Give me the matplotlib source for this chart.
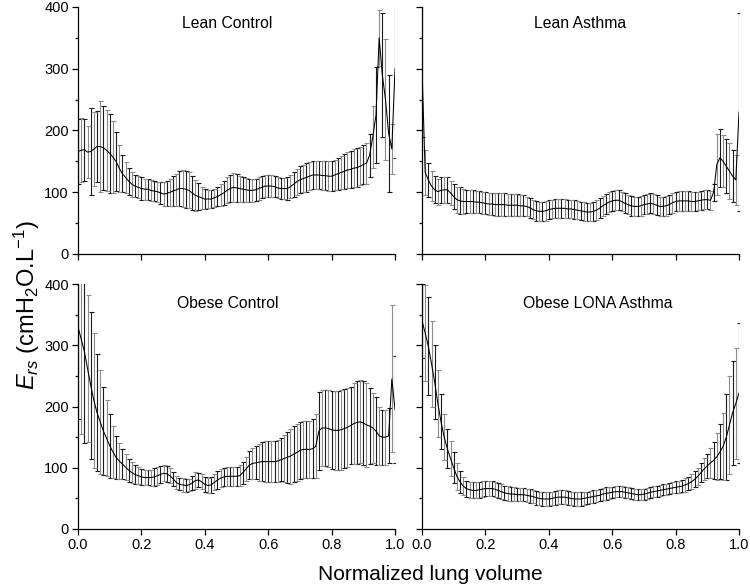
import numpy as np
import matplotlib
matplotlib.use("Agg")
import matplotlib.pyplot as plt
from matplotlib.ticker import MultipleLocator, FixedLocator

plt.rcParams['font.family'] = ['Liberation Sans', 'DejaVu Sans']
plt.rcParams['mathtext.fontset'] = 'custom'
plt.rcParams['mathtext.rm'] = 'Liberation Sans'
plt.rcParams['mathtext.it'] = 'Liberation Sans:italic'

# normalized lung volume sampling grid (0.00 .. 1.00)
volume = np.linspace(0.0, 1.0, 101)

titles = ["Lean Control", "Lean Asthma", "Obese Control", "Obese LONA Asthma"]
x_ticks = [0.0, 0.2, 0.4, 0.6, 0.8, 1.0]
x_tick_labels = ["0.0", "0.2", "0.4", "0.6", "0.8", "1.0"]
y_ticks = [0, 100, 200, 300, 400]

lean_control_mean = [
    166, 168, 169, 165, 166, 170, 174, 174, 172, 168,
    163, 157, 150, 139, 130, 124, 118, 113, 110, 108,
    106, 105, 105, 103, 102, 101, 99, 97, 98, 100,
    102, 104, 106, 106, 105, 103, 99, 95, 93, 91,
    89, 89, 89, 91, 93, 96, 99, 103, 106, 108,
    107, 106, 105, 104, 103, 103, 104, 106, 108, 110,
    110, 110, 109, 107, 106, 106, 106, 109, 113, 117,
    120, 122, 124, 126, 128, 128, 128, 127, 127, 126,
    126, 128, 130, 132, 134, 136, 137, 139, 140, 142,
    145, 147, 160, 190, 225, 350, 290, 250, 195, 170,
    300]
lean_control_sd = [
    53, 52, 50, 42, 70, 60, 57, 73, 68, 66,
    64, 58, 48, 38, 30, 25, 22, 20, 18, 18,
    18, 17, 17, 17, 16, 16, 18, 19, 20, 22,
    24, 26, 28, 30, 30, 29, 28, 25, 22, 18,
    16, 15, 15, 15, 16, 18, 20, 21, 22, 23,
    22, 21, 20, 19, 18, 18, 18, 18, 18, 18,
    18, 18, 17, 17, 17, 17, 18, 19, 20, 21,
    22, 22, 23, 23, 22, 22, 23, 23, 24, 24,
    24, 25, 26, 27, 28, 29, 30, 31, 31, 31,
    31, 33, 35, 50, 78, 45, 100, 98, 95, 40,
    145]

lean_asthma_mean = [
    300, 132, 120, 110, 104, 101, 103, 104, 104, 99,
    93, 88, 86, 85, 85, 85, 85, 84, 84, 83,
    82, 81, 81, 80, 80, 80, 80, 79, 79, 79,
    79, 78, 78, 77, 75, 72, 70, 69, 69, 70,
    72, 73, 74, 74, 74, 74, 73, 73, 72, 71,
    70, 69, 68, 68, 69, 71, 74, 78, 81, 84,
    86, 87, 87, 85, 82, 80, 78, 77, 77, 78,
    80, 81, 82, 81, 79, 77, 77, 78, 80, 83,
    85, 86, 86, 86, 86, 85, 85, 86, 87, 88,
    88, 87, 100, 145, 156, 150, 142, 134, 126, 120,
    230]
lean_asthma_sd = [
    110, 36, 27, 24, 22, 21, 21, 21, 21, 20,
    20, 21, 22, 20, 19, 19, 18, 18, 18, 18,
    18, 18, 18, 18, 18, 18, 18, 18, 18, 18,
    18, 17, 17, 16, 16, 16, 16, 16, 16, 16,
    15, 15, 15, 15, 15, 15, 15, 15, 15, 15,
    15, 15, 15, 15, 16, 16, 16, 16, 16, 16,
    16, 16, 16, 16, 16, 16, 16, 16, 16, 16,
    16, 16, 16, 16, 16, 16, 16, 16, 16, 16,
    16, 16, 16, 16, 16, 15, 15, 15, 15, 15,
    15, 15, 14, 50, 47, 42, 44, 45, 42, 41,
    160]

obese_control_mean = [
    330, 310, 290, 262, 235, 210, 190, 175, 160, 148,
    136, 126, 117, 111, 106, 101, 96, 92, 89, 87,
    85, 84, 84, 84, 85, 87, 89, 91, 90, 87,
    82, 76, 73, 72, 71, 72, 75, 79, 80, 77,
    73, 71, 72, 76, 80, 83, 85, 86, 86, 86,
    86, 87, 92, 98, 104, 107, 108, 109, 110, 110,
    110, 110, 110, 111, 113, 115, 117, 119, 122, 125,
    128, 130, 130, 130, 131, 135, 160, 165, 165, 164,
    162, 161, 161, 162, 164, 166, 169, 172, 174, 175,
    173, 170, 168, 165, 160, 152, 150, 150, 152, 245,
    195]
obese_control_sd = [
    150, 155, 150, 120, 120, 110, 95, 85, 72, 62,
    52, 42, 35, 30, 25, 21, 19, 17, 16, 14,
    13, 12, 12, 13, 15, 15, 14, 13, 13, 12,
    11, 10, 10, 11, 10, 10, 12, 14, 12, 12,
    12, 13, 13, 13, 14, 15, 15, 16, 16, 16,
    16, 17, 18, 20, 23, 25, 27, 30, 32, 33,
    34, 34, 34, 34, 35, 38, 42, 45, 46, 47,
    47, 47, 47, 47, 48, 52, 63, 62, 62, 63,
    64, 65, 65, 65, 65, 64, 63, 66, 68, 68,
    69, 68, 62, 57, 55, 48, 45, 45, 45, 120,
    88]

obese_lona_mean = [
    340, 320, 298, 270, 240, 205, 175, 150, 131, 115,
    100, 86, 77, 70, 66, 64, 63, 63, 64, 65,
    66, 66, 66, 65, 63, 61, 59, 58, 57, 57,
    56, 56, 56, 55, 54, 53, 51, 50, 49, 49,
    49, 50, 51, 52, 52, 52, 51, 50, 49, 49,
    49, 50, 51, 52, 53, 54, 55, 57, 58, 59,
    60, 61, 61, 61, 60, 59, 58, 57, 56, 56,
    57, 58, 60, 61, 62, 63, 64, 65, 66, 67,
    68, 69, 70, 72, 74, 77, 81, 86, 92, 98,
    103, 108, 112, 118, 126, 135, 150, 170, 190, 205,
    222]
obese_lona_sd = [
    60, 78, 80, 70, 60, 55, 45, 38, 32, 28,
    25, 22, 18, 15, 13, 13, 13, 13, 13, 13,
    12, 12, 12, 12, 12, 12, 12, 12, 12, 12,
    11, 11, 11, 11, 11, 11, 11, 11, 11, 11,
    11, 11, 11, 11, 11, 11, 11, 11, 11, 11,
    11, 10, 10, 10, 10, 10, 10, 10, 10, 10,
    9, 9, 9, 9, 9, 9, 9, 9, 9, 9,
    9, 9, 9, 9, 9, 9, 9, 9, 9, 9,
    10, 10, 10, 11, 11, 12, 13, 14, 16, 18,
    20, 24, 30, 38, 45, 55, 70, 80, 85, 90,
    115]

means = [lean_control_mean, lean_asthma_mean, obese_control_mean, obese_lona_mean]
sds = [lean_control_sd, lean_asthma_sd, obese_control_sd, obese_lona_sd]

fig = plt.figure(figsize=(7.5, 5.88), dpi=100)
W = 750.0
H = 588.0
# (left_px, top_px, right_px, bottom_px)
boxes = [(78, 7, 395, 254), (422, 7, 739, 254),
         (78, 284, 395, 529), (422, 284, 739, 529)]
title_pos = [(0.47, 0.935), (0.50, 0.935), (0.473, 0.922), (0.555, 0.922)]

for i in range(4):
    l, t, r, b = boxes[i]
    ax = fig.add_axes([l / W, 1 - b / H, (r - l) / W, (b - t) / H])
    m = np.array(means[i], dtype=float)
    s = np.array(sds[i], dtype=float)
    even = np.arange(0, 101, 2)
    odd = np.arange(1, 101, 2)
    ax.errorbar(volume[even], m[even], yerr=s[even], fmt='none', ecolor='#1a1a1a',
                elinewidth=0.8, capsize=1.8, capthick=0.8)
    ax.errorbar(volume[odd], m[odd], yerr=s[odd], fmt='none', ecolor='#8c8c8c',
                elinewidth=0.8, capsize=1.8, capthick=0.8)
    ax.plot(volume, m, color='black', lw=0.75)
    ax.set_xlim(0, 1)
    ax.set_ylim(0, 400)
    for sp in ['top', 'right']:
        ax.spines[sp].set_visible(False)
    for sp in ['left', 'bottom']:
        ax.spines[sp].set_linewidth(0.9)
    ax.xaxis.set_major_locator(FixedLocator(x_ticks))
    ax.yaxis.set_major_locator(FixedLocator(y_ticks))
    ax.yaxis.set_minor_locator(MultipleLocator(50))
    ax.tick_params(axis='both', which='major', direction='out', length=4.5, width=0.9,
                   labelsize=10.5, pad=2)
    ax.tick_params(axis='y', which='minor', direction='out', length=2.5, width=0.9)
    if i >= 2:
        ax.set_xticklabels(x_tick_labels)
    else:
        ax.set_xticklabels([])
    if i % 2 == 1:
        ax.set_yticklabels([])
    ax.text(title_pos[i][0], title_pos[i][1], titles[i], transform=ax.transAxes,
            ha='center', va='center', fontsize=11.3)

fig.text(0.036, 1 - 305 / H, r'$E_{rs}$ (cmH$_2$O.L$^{-1}$)', rotation=90,
         ha='center', va='center', fontsize=17)
fig.text(430 / W, 1 - 574 / H, 'Normalized lung volume', ha='center', va='center',
         fontsize=15)

fig.savefig('out.png', dpi=100)
